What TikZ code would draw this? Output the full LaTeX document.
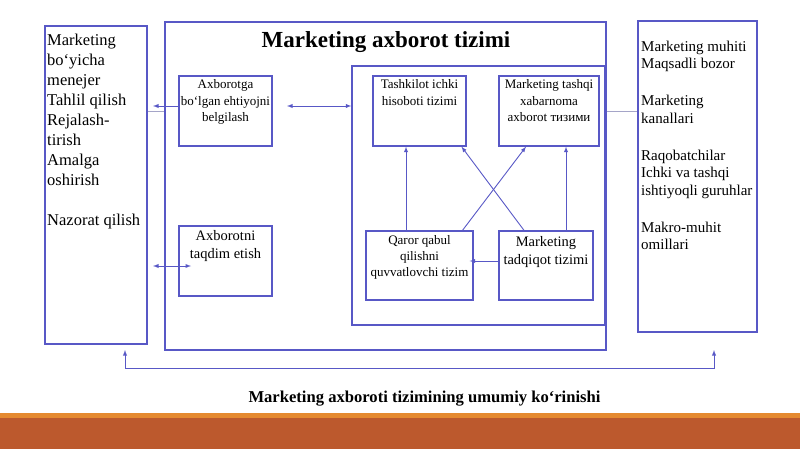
\documentclass[tikz,border=0pt]{standalone}
\usepackage{fontspec}
\setmainfont{Liberation Serif}
\usepackage{tikz}
\usetikzlibrary{calc}

\definecolor{boxblue}{RGB}{88,88,198}
\definecolor{faintline}{RGB}{165,165,200}
\definecolor{bandorange}{RGB}{229,138,48}
\definecolor{bandrust}{RGB}{188,89,45}

\tikzset{
  box/.style={draw=boxblue, line width=1.3pt, inner sep=0pt},
  boxtext/.style={inner sep=0pt, align=center, anchor=north},
  sidetext/.style={inner sep=0pt, align=left, anchor=north west},
  link/.style={draw=boxblue, line width=0.9pt, -latex},
  dlink/.style={draw=boxblue, line width=0.9pt, latex-latex},
  faint/.style={draw=faintline, line width=0.6pt}
}

\begin{document}
\begin{tikzpicture}[x=1pt,y=-1pt]
    \useasboundingbox (0,0) rectangle (800,449);

    % bottom band
    \fill[bandorange] (0,413) rectangle (800,418);
    \fill[bandrust] (0,418) rectangle (800,449);

    % boxes
    \node[box, minimum width=102pt, minimum height=318pt] (mgr) at (96,185) {};
    \node[box, minimum width=441pt, minimum height=328pt] (mis) at (385.5,186) {};
    \node[box, minimum width=253pt, minimum height=259pt] (inner) at (478.5,195.5) {};
    \node[box, minimum width=93pt, minimum height=70pt] (axb) at (225.5,111) {};
    \node[box, minimum width=93pt, minimum height=70pt] (pres) at (225.5,261) {};
    \node[box, minimum width=93pt, minimum height=70pt] (tsk) at (419.5,111) {};
    \node[box, minimum width=100pt, minimum height=70pt] (ext) at (549,111) {};
    \node[box, minimum width=107pt, minimum height=69pt] (dss) at (419.5,265.5) {};
    \node[box, minimum width=94pt, minimum height=69pt] (res) at (546,265.5) {};
    \node[box, minimum width=119pt, minimum height=311pt] (env) at (697.5,176.5) {};

    % texts
    \node[sidetext, font=\fontsize{16.5}{20}\selectfont] (mgrT) at (47,34)
        {Marketing\\bo‘yicha\\menejer\\Tahlil qilish\\Rejalash-\\tirish\\Amalga\\oshirish\\[20pt]Nazorat qilish};
    \node[font=\bfseries\fontsize{23}{27}\selectfont] (misT) at (386,42) {Marketing axborot tizimi};
    \node[boxtext, font=\fontsize{13}{16.5}\selectfont] (axbT) at (225.5,79.3) {Axborotga\\bo‘lgan ehtiyojni\\belgilash};
    \node[boxtext, font=\fontsize{14.5}{18}\selectfont] (presT) at (225.5,229.8) {Axborotni\\taqdim etish};
    \node[boxtext, font=\fontsize{13}{16.5}\selectfont] (tskT) at (419.5,79.3) {Tashkilot ichki\\hisoboti tizimi};
    \node[boxtext, font=\fontsize{13}{16.5}\selectfont] (extT) at (549,79.3) {Marketing tashqi\\xabarnoma\\axborot тизими};
    \node[boxtext, font=\fontsize{13}{16}\selectfont] (dssT) at (419.5,235.3) {Qaror qabul\\qilishni\\quvvatlovchi tizim};
    \node[boxtext, font=\fontsize{14.5}{18}\selectfont] (resT) at (546,235.8) {Marketing\\tadqiqot tizimi};
    \node[sidetext, font=\fontsize{15}{17.5}\selectfont] (envT) at (641,40.6)
        {Marketing muhiti\\Maqsadli bozor\\[19.5pt]Marketing\\kanallari\\[19.5pt]Raqobatchilar\\Ichki va tashqi\\ishtiyoqli guruhlar\\[19.5pt]Makro-muhit\\omillari};
    \node[font=\bfseries\fontsize{16.6}{20}\selectfont] (caption) at (424.5,399) {Marketing axboroti tizimining umumiy ko‘rinishi};

    % free ends
    \coordinate (mgrIn) at (153,106);
    \coordinate (needL) at (287,106);
    \coordinate (presL) at (153,266);
    \coordinate (presR) at (191,266);
    \coordinate (fbL) at (125,350);
    \coordinate (fbR) at (714,350);

    % connectors
    \draw[faint] (mgr.east |- axb) -- (mis.west |- axb);
    \draw[faint] (mis.east |- axb) -- (env.west |- axb);
    \draw[link] (axb.west |- mgrIn) -- (mgrIn);
    \draw[dlink] (needL) -- (inner.west |- needL);
    \draw[dlink] (presL) -- (presR);

    \draw[link] ([xshift=-13.5pt]dss.north) -- ([xshift=-13.5pt]tsk.south);
    \draw[link] ([xshift=20pt]res.north) -- ([xshift=20pt]res.north |- ext.south);
    \draw[link] ([xshift=-22pt]res.north) -- ([xshift=42pt]tsk.south);
    \draw[link] ([xshift=43pt]dss.north) -- ([xshift=-23pt]ext.south);
    \draw[link] ([yshift=4.5pt]res.west) -- ([xshift=-4pt,yshift=4.5pt]dss.east);

    \draw[dlink] (fbL) -- (fbL |- 0,368) -- (fbR |- 0,368) -- (fbR);
\end{tikzpicture}
\end{document}
